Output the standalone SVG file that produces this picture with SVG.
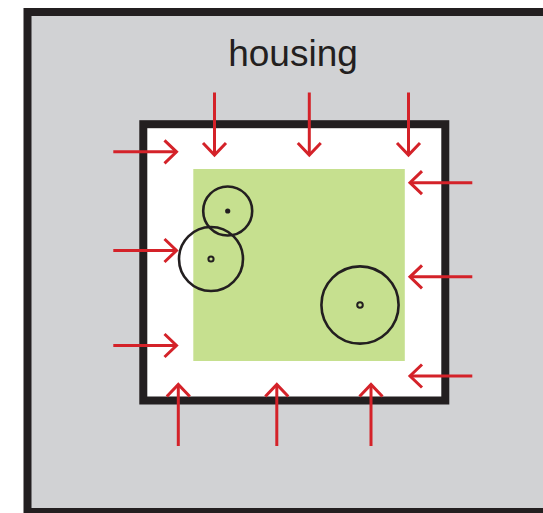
<svg xmlns="http://www.w3.org/2000/svg" width="543" height="513" viewBox="0 0 543 513">
  <style>
    .frame { fill: #d1d2d4; stroke: #231f20; stroke-width: 8; }
    .inner { fill: #ffffff; stroke: #231f20; stroke-width: 8; }
    .core { fill: #c6e08f; }
    .ring { fill: none; stroke: #231f20; stroke-width: 2.6; }
    .dotring { fill: none; stroke: #231f20; stroke-width: 2; }
    .dot { fill: #231f20; }
    .arrow { stroke: #d42229; stroke-width: 3; fill: none; marker-end: url(#head); }
    .label { font-family: "Liberation Sans", Arial, sans-serif; font-size: 37px; fill: #231f20; }
  </style>
  <defs>
    <marker id="head" markerUnits="userSpaceOnUse" orient="auto" markerWidth="30" markerHeight="30" refX="0" refY="0" viewBox="-15 -15 30 30" overflow="visible">
      <path d="M-12,-11.5 L0,0 L-12,11.5" fill="none" stroke="#d42229" stroke-width="3"/>
    </marker>
  </defs>
  <g id="housing">
    <rect class="frame" x="27.5" y="12" width="540" height="500"/>
    <text class="label" x="293" y="66" text-anchor="middle">housing</text>
  </g>
  <g id="enclosure">
    <rect class="inner" x="143.3" y="124.2" width="302" height="276.3"/>
  </g>
  <g id="core">
    <rect class="core" x="193.3" y="169" width="211.5" height="192"/>
  </g>
  <g id="cell-small">
    <circle class="ring" cx="227.7" cy="211" r="24.5"/>
    <circle class="dot" cx="227.7" cy="211" r="2.6"/>
  </g>
  <g id="cell-left">
    <circle class="ring" cx="211" cy="259" r="32"/>
    <circle class="dotring" cx="211" cy="259" r="2.6"/>
  </g>
  <g id="cell-right">
    <circle class="ring" cx="360" cy="305" r="38.6"/>
    <circle class="dotring" cx="360" cy="305" r="2.8"/>
  </g>
  <g id="connectors">
    <line class="arrow" x1="214.5" y1="92.5" x2="214.5" y2="155"/>
    <line class="arrow" x1="309.3" y1="92.5" x2="309.3" y2="155"/>
    <line class="arrow" x1="408.5" y1="92.5" x2="408.5" y2="155"/>
    <line class="arrow" x1="113.3" y1="151.8" x2="176.5" y2="151.8"/>
    <line class="arrow" x1="113.3" y1="250.5" x2="176.5" y2="250.5"/>
    <line class="arrow" x1="113.3" y1="345.5" x2="176.5" y2="345.5"/>
    <line class="arrow" x1="472.3" y1="182.7" x2="410" y2="182.7"/>
    <line class="arrow" x1="472.3" y1="276.8" x2="410" y2="276.8"/>
    <line class="arrow" x1="472.3" y1="376" x2="410" y2="376"/>
    <line class="arrow" x1="178.3" y1="446" x2="178.3" y2="384.5"/>
    <line class="arrow" x1="276.8" y1="446" x2="276.8" y2="384.5"/>
    <line class="arrow" x1="371" y1="446" x2="371" y2="384.5"/>
  </g>
</svg>
